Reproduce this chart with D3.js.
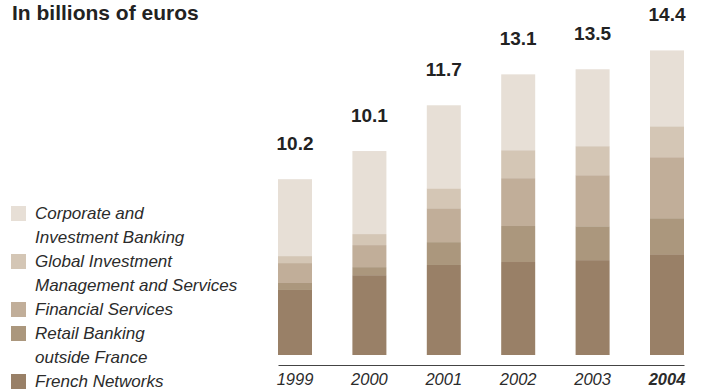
<!DOCTYPE html>
<html>
<head>
<meta charset="utf-8">
<script src="https://cdnjs.cloudflare.com/ajax/libs/d3/7.8.5/d3.min.js"></script>
<style>
  body { margin: 0; background: #fff; }
  svg { display: block; font-family: "Liberation Sans", Arial, Helvetica, sans-serif; }
  .legend text { font-style: italic; font-size: 17px; fill: #2b2b2b; }
  .x-axis text { font-style: italic; font-size: 16.5px; fill: #2b2b2b; }
  .total { font-weight: bold; font-size: 19px; fill: #222; }
</style>
</head>
<body>
<svg id="chart"></svg>
<script>
// years and totals shown above the bars
const years = ['1999', '2000', '2001', '2002', '2003', '2004'];
const totals = [10.2, 10.1, 11.7, 13.1, 13.5, 14.4];

// segment values, bottom to top (billions of euros)
const frenchNetworks = [3.07, 3.77, 4.25, 4.39, 4.48, 4.76];
const retailOutside = [0.33, 0.38, 1.08, 1.70, 1.60, 1.70];
const financialServices = [0.94, 1.04, 1.60, 2.26, 2.41, 2.88];
const globalInvestment = [0.33, 0.52, 0.94, 1.32, 1.37, 1.46];
const corporateBanking = [3.63, 3.92, 3.92, 3.58, 3.63, 3.58];

const seriesKeys = ['fn', 'rb', 'fs', 'gi', 'cb'];
const seriesNames = [
  ['French Networks'],
  ['Retail Banking', 'outside France'],
  ['Financial Services'],
  ['Global Investment', 'Management and Services'],
  ['Corporate and', 'Investment Banking']
];
const colors = ['#998067', '#ab977d', '#c1ae99', '#d4c6b5', '#e7dfd6'];

const width = 702, height = 390;

const table = years.map((yr, i) => ({
  year: yr,
  fn: frenchNetworks[i],
  rb: retailOutside[i],
  fs: financialServices[i],
  gi: globalInvestment[i],
  cb: corporateBanking[i]
}));

const stacked = d3.stack().keys(seriesKeys)(table);

const svg = d3.select('#chart')
  .attr('width', width)
  .attr('height', height);

const x = d3.scaleBand()
  .domain(years)
  .range([278, 684])
  .paddingInner(0.543)
  .paddingOuter(0);

const y = d3.scaleLinear()
  .domain([0, 14.4])
  .range([355, 50]);

const color = d3.scaleOrdinal().domain(seriesKeys).range(colors);

// title
svg.append('text')
  .attr('x', 12)
  .attr('y', 20)
  .style('font-weight', 'bold')
  .style('font-size', '21px')
  .style('fill', '#222')
  .text('In billions of euros');

// bars
svg.append('g')
  .selectAll('g')
  .data(stacked)
  .join('g')
  .attr('fill', d => color(d.key))
  .selectAll('rect')
  .data(d => d)
  .join('rect')
  .attr('x', d => x(d.data.year))
  .attr('y', d => y(d[1]))
  .attr('width', x.bandwidth())
  .attr('height', d => y(d[0]) - y(d[1]));

// totals above bars
const topLayer = stacked[stacked.length - 1];
svg.append('g')
  .selectAll('text')
  .data(totals)
  .join('text')
  .attr('class', 'total')
  .attr('x', (d, i) => x(years[i]) + x.bandwidth() / 2)
  .attr('y', (d, i) => y(topLayer[i][1]) - 29)
  .attr('text-anchor', 'middle')
  .text(d => d.toFixed(1));

// x axis
const xAxis = svg.append('g')
  .attr('class', 'x-axis')
  .attr('transform', 'translate(0,365)')
  .call(d3.axisBottom(x).tickSize(0).tickSizeOuter(0));

xAxis.select('.domain')
  .attr('stroke', '#444')
  .attr('stroke-width', 1.2);

xAxis.selectAll('text')
  .attr('y', 20)
  .attr('dy', 0)
  .style('font-weight', d => d === '2004' ? 'bold' : 'normal');

// legend, top entry first
const legend = svg.append('g').attr('class', 'legend');
const lineH = 24;
let line = 0;
const order = d3.range(seriesKeys.length).reverse();
order.forEach(i => {
  const base = 219 + line * lineH;
  legend.append('rect')
    .attr('x', 11)
    .attr('y', base - 13)
    .attr('width', 15)
    .attr('height', 15)
    .attr('fill', colors[i]);
  const t = legend.append('text')
    .attr('x', 35)
    .attr('y', base);
  seriesNames[i].forEach((s, j) => {
    t.append('tspan')
      .attr('x', 35)
      .attr('dy', j === 0 ? 0 : lineH)
      .text(s);
  });
  line += seriesNames[i].length;
});
</script>
</body>
</html>
